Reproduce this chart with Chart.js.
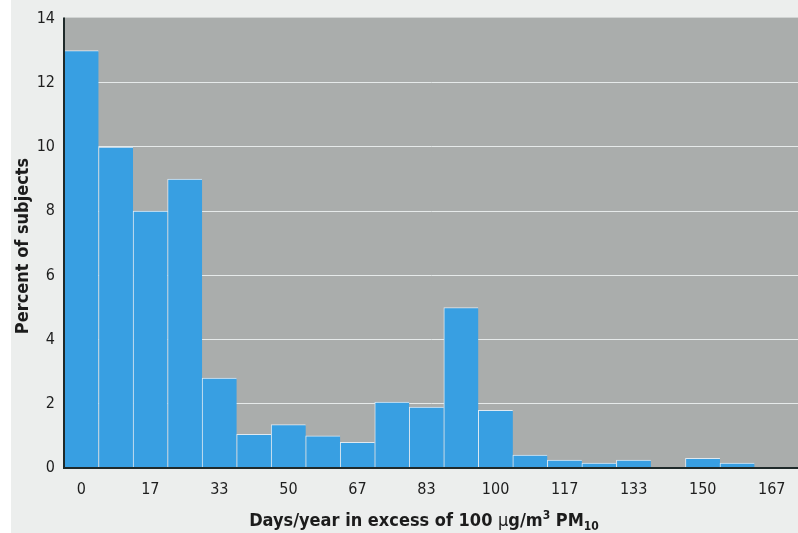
<!DOCTYPE html>
<html>
<head>
<meta charset="utf-8">
<script src="https://cdn.jsdelivr.net/npm/chart.js@4"></script>
<style>
  html, body { margin: 0; padding: 0; background: #fff; }
  #wrap { position: relative; width: 798px; height: 533px;
          background: linear-gradient(to right, #fff 0, #fff 11px, #eceeed 11px); }
  canvas { display: block; }
</style>
</head>
<body>
<div id="wrap"><canvas id="c" width="798" height="533"></canvas></div>
<script>
// Histogram bins: centre of each bin in days/year (bin width = 8.33 days)
const binCenters = [0, 8.33, 16.67, 25, 33.33, 41.67, 50, 58.33, 66.67, 75, 83.33,
                    91.67, 100, 108.33, 116.67, 125, 133.33, 141.67, 150, 158.33, 166.67];
// Percent of subjects in each bin
const percentSubjects = [13.0, 10.0, 8.0, 9.0, 2.8, 1.05, 1.35, 1.0, 0.8, 2.05, 1.9,
                         5.0, 1.8, 0.4, 0.25, 0.15, 0.25, 0, 0.3, 0.15, 0];
// Labelled x ticks (every second bin)
const dayTickLabels = ['0', '17', '33', '50', '67', '83', '100', '117', '133', '150', '167'];
const dayTickBins = [0, 2, 4, 6, 8, 10, 12, 14, 16, 18, 20];
const yTicks = [0, 2, 4, 6, 8, 10, 12, 14];

const FONT = "'Liberation Sans Narrow', 'DejaVu Sans Condensed', 'Roboto Condensed', 'Arial Narrow', Roboto, sans-serif";
const AXIS_COLOR = '#1f2a2a';

const plotBackground = {
  id: 'plotBackground',
  beforeDraw(chart) {
    const { ctx, chartArea: a } = chart;
    ctx.save();
    ctx.fillStyle = '#aaadac';
    ctx.fillRect(a.left, a.top - 1, chart.width - a.left, a.bottom - a.top + 1);
    ctx.restore();
  }
};

// Keep the two axis lines above the bars
const axisLinesOnTop = {
  id: 'axisLinesOnTop',
  afterDatasetsDraw(chart) {
    const { ctx, chartArea: a } = chart;
    ctx.save();
    ctx.strokeStyle = AXIS_COLOR;
    ctx.lineWidth = 2;
    ctx.beginPath();
    ctx.moveTo(a.left, a.top - 1);
    ctx.lineTo(a.left, a.bottom + 1);
    ctx.moveTo(a.left - 1, a.bottom);
    ctx.lineTo(chart.width, a.bottom);
    ctx.stroke();
    ctx.restore();
  }
};

const axisTitles = {
  id: 'axisTitles',
  afterDraw(chart) {
    const { ctx } = chart;
    ctx.save();
    ctx.fillStyle = '#1c1c1c';
    ctx.textBaseline = 'alphabetic';

    // y title
    ctx.save();
    ctx.translate(28, 246);
    ctx.rotate(-Math.PI / 2);
    ctx.font = `bold 18px ${FONT}`;
    ctx.textAlign = 'center';
    ctx.fillText('Percent of subjects', 0, 0);
    ctx.restore();

    // x title with superscript and subscript
    const main = `bold 18px ${FONT}`;
    const small = `bold 12px ${FONT}`;
    const parts = [
      { t: 'Days/year in excess of 100 ', f: main, dy: 0 },
      { t: 'µ', f: `18px ${FONT}`, dy: 0 },
      { t: 'g/m', f: main, dy: 0 },
      { t: '3', f: small, dy: -7 },
      { t: ' PM', f: main, dy: 0 },
      { t: '10', f: small, dy: 4 }
    ];
    let total = 0;
    parts.forEach(p => { ctx.font = p.f; p.w = ctx.measureText(p.t).width; total += p.w; });
    let x = 424 - total / 2;
    const base = 526;
    ctx.textAlign = 'left';
    parts.forEach(p => { ctx.font = p.f; ctx.fillText(p.t, x, base + p.dy); x += p.w; });
    ctx.restore();
  }
};

new Chart(document.getElementById('c'), {
  type: 'bar',
  data: {
    datasets: [{
      data: binCenters.map((d, i) => ({ x: d, y: percentSubjects[i] })),
      backgroundColor: '#389fe2',
      borderColor: 'rgba(226,236,244,0.95)',
      borderWidth: { top: 1, left: 1, right: 0, bottom: 0 },
      borderSkipped: false,
      barPercentage: 1,
      categoryPercentage: 1
    }]
  },
  options: {
    responsive: false,
    animation: false,
    layout: { padding: { top: 13, right: 0, left: 0, bottom: 0 } },
    plugins: { legend: { display: false }, tooltip: { enabled: false } },
    scales: {
      x: {
        type: 'linear',
        offset: false,
        min: -4.17,
        max: 173,
        afterFit(s) { s.height = 65; },
        afterBuildTicks(s) { s.ticks = dayTickBins.map(b => ({ value: binCenters[b] })); },
        ticks: {
          autoSkip: false,
          maxRotation: 0,
          padding: 12,
          color: '#1e1e1e',
          font: { family: FONT, size: 16 },
          callback: (v, i) => dayTickLabels[i]
        },
        grid: { display: false, drawTicks: false },
        border: { display: true, color: AXIS_COLOR, width: 2 }
      },
      y: {
        min: 0,
        max: 14,
        afterFit(s) { s.width = 64; },
        afterBuildTicks(s) { s.ticks = yTicks.map(v => ({ value: v })); },
        ticks: {
          padding: 9,
          color: '#1e1e1e',
          font: { family: FONT, size: 16 }
        },
        grid: {
          drawTicks: false,
          lineWidth: 1,
          color: c => (c.tick && (c.tick.value === 0 || c.tick.value === 14)) ? 'rgba(0,0,0,0)' : '#e6eaea'
        },
        border: { display: true, color: AXIS_COLOR, width: 2 }
      }
    }
  },
  plugins: [plotBackground, axisLinesOnTop, axisTitles]
});
</script>
</body>
</html>
